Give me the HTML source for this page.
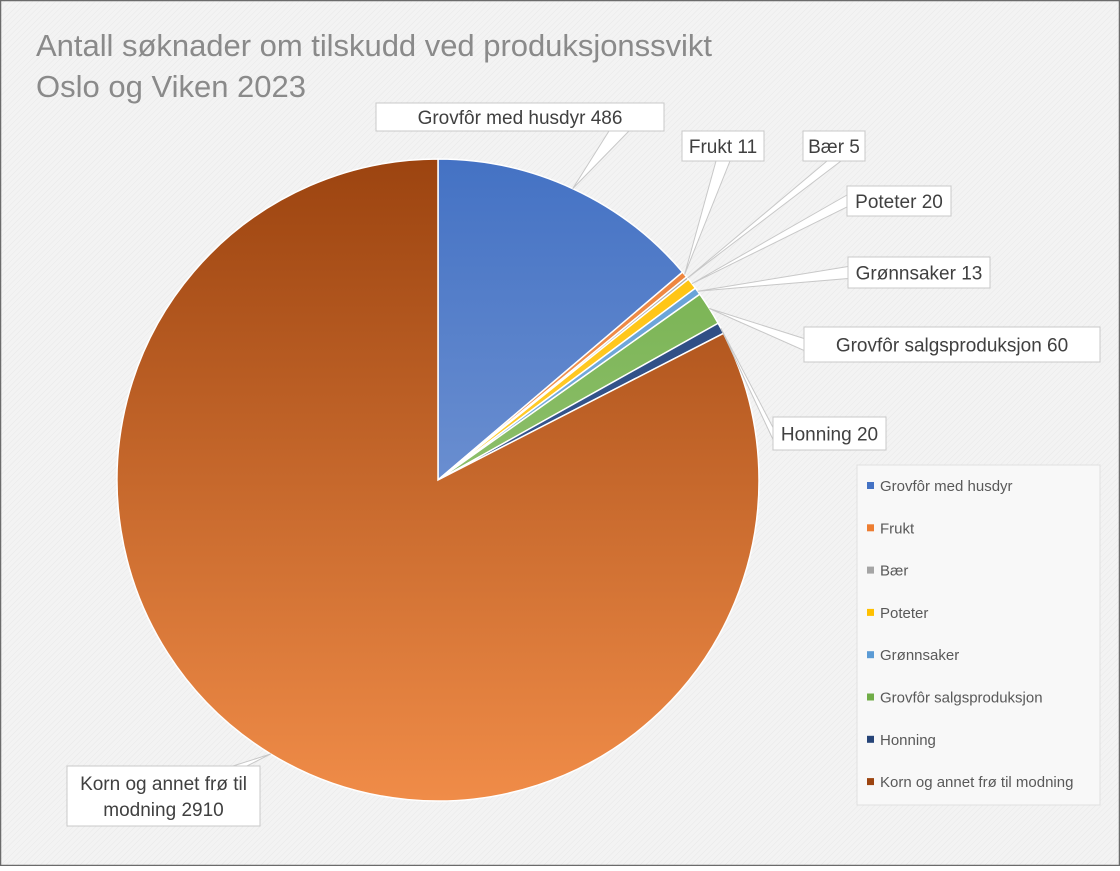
<!DOCTYPE html>
<html><head><meta charset="utf-8"><style>
html,body{margin:0;padding:0;}
body{width:1120px;height:866px;overflow:hidden;font-family:"Liberation Sans","DejaVu Sans",sans-serif;}
svg text{font-family:"Liberation Sans","DejaVu Sans",sans-serif;}
</style></head><body>
<svg id="chart" width="1120" height="866" xmlns="http://www.w3.org/2000/svg">
<defs>
<pattern id="hatch" width="4" height="4" patternUnits="userSpaceOnUse" patternTransform="rotate(45)">
<rect width="4" height="4" fill="#f3f3f3"/><line x1="0" y1="0" x2="0" y2="4" stroke="#e8e8e8" stroke-width="1"/>
</pattern>
</defs>
<rect x="0.5" y="0.5" width="1119" height="865" fill="url(#hatch)" stroke="#6b6b6b" stroke-width="1.5"/>
<text x="36" y="56" font-size="31" fill="#8a8a8a" textLength="676">Antall søknader om tilskudd ved produksjonssvikt</text>
<text x="36" y="97" font-size="31" fill="#8a8a8a">Oslo og Viken 2023</text>
<g id="slices"></g>
<g id="callouts"></g>
<rect x="857" y="465" width="243" height="340" fill="#f8f8f8" stroke="#e0e0e0"/>
<g id="legend"></g>
</svg>
<script>
const categories=["Grovfôr med husdyr","Frukt","Bær","Poteter","Grønnsaker","Grovfôr salgsproduksjon","Honning","Korn og annet frø til modning"];
const values=[486,11,5,20,13,60,20,2910];
const labelTexts=["Grovfôr med husdyr 486","Frukt 11","Bær 5","Poteter 20","Grønnsaker 13","Grovfôr salgsproduksjon 60","Honning 20","Korn og annet frø til\nmodning 2910"];
const topColors=["#4472c4","#ed7d31","#a5a5a5","#ffc000","#5b9bd5","#70ad47","#264478","#9c4410"];
const botColors=["#8faadc","#f4b183","#c9c9c9","#ffd966","#9dc3e6","#a9d18e","#4a6ba8","#f08c48"];
const labelBoxes=[[376,103,288,28],[682,131,82,30],[803,131,62,30],[847,186,104,30],[848,257,142,31],[804,327,296,35],[773,417,113,33],[67,766,193,60]];
const NS="http://www.w3.org/2000/svg";
const cx=438,cy=480,r=321;
const svg=document.getElementById('chart');
const defs=svg.querySelector('defs');
const gS=document.getElementById('slices'),gC=document.getElementById('callouts'),gL=document.getElementById('legend');
const total=values.reduce((a,b)=>a+b,0);
function pt(a,rr){return [cx+rr*Math.sin(a),cy-rr*Math.cos(a)];}
let acc=0;
values.forEach((v,i)=>{
  const a0=acc/total*2*Math.PI;acc+=v;const a1=acc/total*2*Math.PI;
  const g=document.createElementNS(NS,'linearGradient');
  g.setAttribute('id','gr'+i);g.setAttribute('gradientUnits','userSpaceOnUse');
  g.setAttribute('x1',cx);g.setAttribute('y1',cy-r);g.setAttribute('x2',cx);g.setAttribute('y2',cy+r);
  g.innerHTML='<stop offset="0" stop-color="'+topColors[i]+'"/><stop offset="1" stop-color="'+botColors[i]+'"/>';
  defs.appendChild(g);
  const p0=pt(a0,r),p1=pt(a1,r);
  const large=(a1-a0)>Math.PI?1:0;
  const path=document.createElementNS(NS,'path');
  path.setAttribute('d','M'+cx+','+cy+' L'+p0[0]+','+p0[1]+' A'+r+','+r+' 0 '+large+' 1 '+p1[0]+','+p1[1]+' Z');
  path.setAttribute('fill','url(#gr'+i+')');path.setAttribute('stroke','#ffffff');path.setAttribute('stroke-width','1.5');
  
  
  gS.appendChild(path);
  const am=(a0+a1)/2;const tip=pt(am,r);
  const b=labelBoxes[i];
  let bx=b[0]+b[2]/2,by=b[1]+b[3];
  if(i===0){bx=b[0]+b[2]-45;}
  if(i>=3&&i<=6){bx=b[0];by=b[1]+b[3]/2;}
  if(i===7){bx=b[0]+b[2]-20;by=b[1];}
  const w=i===0?20:14;
  const poly=document.createElementNS(NS,'polygon');
  const horiz=(i>=3&&i<=6);
  const pA=horiz?[bx,by-6]:[bx-w/2,by],pB=horiz?[bx,by+6]:[bx+w/2,by];
  poly.setAttribute('points',pA.join(',')+' '+tip.join(',')+' '+pB.join(','));
  poly.setAttribute('fill','#ffffff');poly.setAttribute('stroke','#c8c8c8');poly.setAttribute('stroke-width','1');
  
  
  gC.appendChild(poly);
  const rect=document.createElementNS(NS,'rect');
  rect.setAttribute('x',b[0]);rect.setAttribute('y',b[1]);rect.setAttribute('width',b[2]);rect.setAttribute('height',b[3]);
  rect.setAttribute('fill','#ffffff');rect.setAttribute('stroke','#c8c8c8');
  
  
  gC.appendChild(rect);
  const lines=labelTexts[i].split('\n');
  lines.forEach((ln,k)=>{
    const t=document.createElementNS(NS,'text');
    t.setAttribute('x',b[0]+b[2]/2);
    t.setAttribute('y',b[1]+b[3]/2+7+(k-(lines.length-1)/2)*26);
    t.setAttribute('text-anchor','middle');t.setAttribute('font-size','19');t.setAttribute('fill','#404040');
    t.textContent=ln;
    
    
    gC.appendChild(t);
  });
});
categories.forEach((c,i)=>{
  const y=486+i*42.3;
  const s=document.createElementNS(NS,'rect');
  s.setAttribute('x',867);s.setAttribute('y',y-4);s.setAttribute('width',7);s.setAttribute('height',7);
  s.setAttribute('fill',topColors[i]);
  
  
  gL.appendChild(s);
  const t=document.createElementNS(NS,'text');
  t.setAttribute('x',880);t.setAttribute('y',y+5);t.setAttribute('font-size','15');t.setAttribute('fill','#595959');
  t.textContent=c;
  
  
  gL.appendChild(t);
});
</script>
</body></html>
